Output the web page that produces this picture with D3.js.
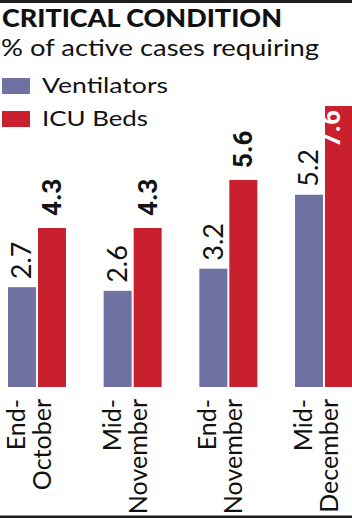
<!DOCTYPE html>
<html>
<head>
<meta charset="utf-8">
<script src="https://cdn.jsdelivr.net/npm/d3@7"></script>
<style>
  html, body { margin: 0; padding: 0; background: #fff; }
  svg { display: block; }
</style>
</head>
<body>
<svg id="chart" width="352" height="518"></svg>
<script>
// ---- data ----
const categories = ["End-October", "Mid-November", "End-November", "Mid-December"];
const seriesNames = ["Ventilators", "ICU Beds"];
const ventilators = [2.7, 2.6, 3.2, 5.2];
const icuBeds = [4.3, 4.3, 5.6, 7.6];
const titleText = "CRITICAL CONDITION";
const subtitleText = "% of active cases requiring";

// ---- layout ----
const W = 352, H = 518;
const colors = { "Ventilators": "#6f72a1", "ICU Beds": "#c9202d" };
const FONT = "Lato, 'Open Sans', sans-serif";

const svg = d3.select("#chart");

// top & bottom rules
svg.append("rect").attr("x", 0).attr("y", 0).attr("width", W).attr("height", 3).attr("fill", "#1e1e1e");
svg.append("rect").attr("x", 0).attr("y", 515.5).attr("width", W).attr("height", 3).attr("fill", "#1e1e1e");

// title
svg.append("text").attr("x", 2).attr("y", 27)
  .attr("font-family", FONT).attr("font-weight", 900).attr("font-size", 24)
  .attr("textLength", 280).attr("lengthAdjust", "spacingAndGlyphs")
  .attr("fill", "#111").text(titleText);
svg.append("text").attr("x", 1).attr("y", 56)
  .attr("font-family", FONT).attr("font-weight", 400).attr("font-size", 23)
  .attr("textLength", 318).attr("lengthAdjust", "spacingAndGlyphs")
  .attr("fill", "#111").text(subtitleText);

// legend
const legendY = d3.scaleBand().domain(seriesNames).range([77, 143]).paddingInner(0);
const legendWidths = { "Ventilators": 126, "ICU Beds": 106 };
seriesNames.forEach(s => {
  const y0 = legendY(s);
  svg.append("rect").attr("x", 2).attr("y", y0 + 1).attr("width", 28).attr("height", 16).attr("fill", colors[s]);
  svg.append("text").attr("x", 42).attr("y", y0 + 16)
    .attr("font-family", FONT).attr("font-size", 21)
    .attr("textLength", legendWidths[s]).attr("lengthAdjust", "spacingAndGlyphs")
    .attr("fill", "#111").text(s);
});

// scales
const x0 = d3.scaleBand().domain(categories).range([8, 353]).paddingInner(0.394).paddingOuter(0);
const x1 = d3.scaleBand().domain(seriesNames).range([0, x0.bandwidth()]).paddingInner(0.0667);
const maxV = d3.max(icuBeds.concat(ventilators));
const y = d3.scaleLinear().domain([0, maxV]).range([387, 106]);

const rows = categories.map((c, i) => ({ cat: c, values: [
  { s: "Ventilators", v: ventilators[i] },
  { s: "ICU Beds", v: icuBeds[i] }
]}));

const groups = svg.append("g").selectAll("g.grp").data(rows).join("g")
  .attr("class", "grp").attr("transform", d => `translate(${x0(d.cat)},0)`);

groups.selectAll("rect").data(d => d.values).join("rect")
  .attr("x", d => x1(d.s)).attr("y", d => y(d.v))
  .attr("width", x1.bandwidth()).attr("height", d => y(0) - y(d.v))
  .attr("fill", d => colors[d.s]);

// value labels
groups.selectAll("text.val").data(d => d.values).join("text")
  .attr("class", "val")
  .each(function(d) {
    const bold = d.s === "ICU Beds";
    const inside = d.v === maxV;
    const cx = x1(d.s) + x1.bandwidth() / 2;
    const gap = bold ? 12 : 8;
    const ty = inside ? y(d.v) + 4 : y(d.v) - gap;
    d3.select(this)
      .attr("transform", `translate(${cx},${ty}) rotate(-90)`)
      .attr("text-anchor", inside ? "end" : "start")
      .attr("dy", inside ? "0.05em" : "0.35em")
      .attr("font-family", bold ? "Roboto, 'Liberation Sans', sans-serif" : FONT)
      .attr("font-weight", bold ? 700 : 400)
      .attr("font-size", bold ? 26 : 27)
      .attr("fill", inside ? "#fff" : "#111")
      .text(d3.format(".1f")(d.v));
  });

// category labels (rotated, two lines)
const catLabels = svg.append("g").selectAll("text.cat").data(categories).join("text")
  .attr("class", "cat")
  .attr("transform", d => `translate(${x0(d)},399) rotate(-90)`)
  .attr("text-anchor", "end")
  .attr("font-family", FONT).attr("font-size", 25).attr("fill", "#111");
catLabels.each(function(d) {
  const parts = d.split("-");
  const t = d3.select(this);
  t.append("tspan").attr("x", 0).attr("y", 17).text(parts[0] + "-");
  t.append("tspan").attr("x", 0).attr("y", 43).text(parts[1]);
});
</script>
</body>
</html>
